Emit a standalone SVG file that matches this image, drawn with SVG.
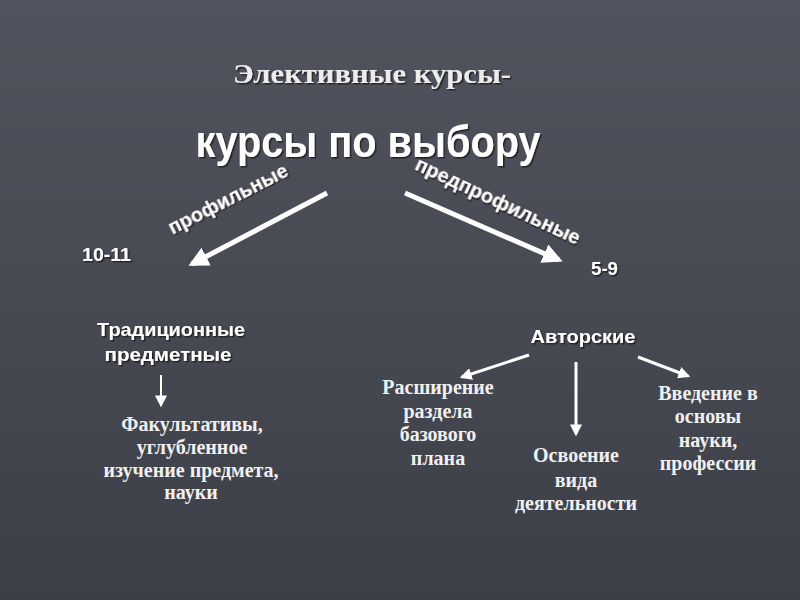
<svg xmlns="http://www.w3.org/2000/svg" width="800" height="600" viewBox="0 0 800 600">
<defs>
<linearGradient id="bg" x1="0" y1="0" x2="0" y2="1">
<stop offset="0" stop-color="#51545e"/>
<stop offset="0.5" stop-color="#474a53"/>
<stop offset="1" stop-color="#3c3f47"/>
</linearGradient>
<marker id="ah" viewBox="0 0 10 10" refX="8" refY="5" markerWidth="4" markerHeight="4" orient="auto" markerUnits="strokeWidth">
<path d="M0,0 L10,5 L0,10 z" fill="#ffffff"/>
</marker>
<marker id="ahs" viewBox="0 0 10 10" refX="8" refY="5" markerWidth="6" markerHeight="6" orient="auto" markerUnits="strokeWidth">
<path d="M0,0 L10,5 L0,10 z" fill="#ffffff"/>
</marker>
<filter id="sh" x="-10%" y="-10%" width="130%" height="140%">
<feDropShadow dx="1.5" dy="1.5" stdDeviation="0.3" flood-color="#1a1a1a" flood-opacity="0.9"/>
</filter>
</defs>
<style>
.sans{font-family:"Liberation Sans",Arial,sans-serif;font-weight:bold;fill:#ffffff}
.serif{font-family:"Liberation Serif","Times New Roman",serif;font-weight:bold;fill:#f0f0f0;text-anchor:middle;font-size:20px}
.mid{text-anchor:middle}
.conn{stroke:#ffffff;fill:none}
</style>
<rect width="800" height="600" fill="url(#bg)"/>

<g id="title">
<text x="372" y="83" font-family="'Liberation Serif','Times New Roman',serif" font-weight="bold" font-size="28" fill="#ececec" text-anchor="middle" textLength="278" lengthAdjust="spacingAndGlyphs" filter="url(#sh)">Элективные курсы-</text>
</g>
<g id="root">
<text x="368" y="157" class="sans mid" font-size="44" textLength="345" lengthAdjust="spacingAndGlyphs" filter="url(#sh)">курсы по выбору</text>
</g>

<g id="connectors">
<line x1="327" y1="193" x2="192" y2="264" class="conn" stroke-width="5" marker-end="url(#ah)"/>
<line x1="405" y1="193" x2="559" y2="260" class="conn" stroke-width="5" marker-end="url(#ah)"/>
<line x1="161" y1="375" x2="161" y2="405" class="conn" stroke-width="2" marker-end="url(#ahs)"/>
<line x1="529" y1="355" x2="462" y2="377" class="conn" stroke-width="3" marker-end="url(#ah)"/>
<line x1="576" y1="362" x2="576" y2="434" class="conn" stroke-width="3" marker-end="url(#ah)"/>
<line x1="638" y1="357" x2="688" y2="376" class="conn" stroke-width="3" marker-end="url(#ah)"/>
</g>

<g id="label-profile">
<text class="sans mid" font-size="20" transform="translate(231,205) rotate(-27)" filter="url(#sh)">профильные</text>
</g>
<g id="label-preprofile">
<text class="sans mid" font-size="20" transform="translate(495,207) rotate(25)" filter="url(#sh)">предпрофильные</text>
</g>

<g id="grade-10-11">
<text x="82" y="261" class="sans" font-size="18" textLength="49" lengthAdjust="spacingAndGlyphs" filter="url(#sh)">10-11</text>
</g>
<g id="grade-5-9">
<text x="591" y="275" class="sans" font-size="18" textLength="27" lengthAdjust="spacingAndGlyphs" filter="url(#sh)">5-9</text>
</g>

<g id="traditional">
<text x="171" y="336" class="sans mid" font-size="19" textLength="148" lengthAdjust="spacingAndGlyphs" filter="url(#sh)">Традиционные</text>
<text x="168" y="361" class="sans mid" font-size="19" textLength="127" lengthAdjust="spacingAndGlyphs" filter="url(#sh)">предметные</text>
</g>
<g id="facultative">
<text class="serif"><tspan x="192" y="431">Факультативы,</tspan><tspan x="192" y="454">углубленное</tspan><tspan x="191" y="477">изучение предмета,</tspan><tspan x="191" y="499">науки</tspan></text>
</g>

<g id="author">
<text x="583" y="343" class="sans mid" font-size="19" textLength="105" lengthAdjust="spacingAndGlyphs" filter="url(#sh)">Авторские</text>
</g>
<g id="extension">
<text class="serif"><tspan x="438" y="394">Расширение</tspan><tspan x="438" y="418">раздела</tspan><tspan x="438" y="441">базового</tspan><tspan x="438" y="465">плана</tspan></text>
</g>
<g id="mastery">
<text class="serif"><tspan x="576" y="462">Освоение</tspan><tspan x="576" y="487">вида</tspan><tspan x="576" y="510">деятельности</tspan></text>
</g>
<g id="intro">
<text class="serif"><tspan x="708" y="400">Введение в</tspan><tspan x="708" y="423">основы</tspan><tspan x="708" y="447">науки,</tspan><tspan x="708" y="470">профессии</tspan></text>
</g>
</svg>
